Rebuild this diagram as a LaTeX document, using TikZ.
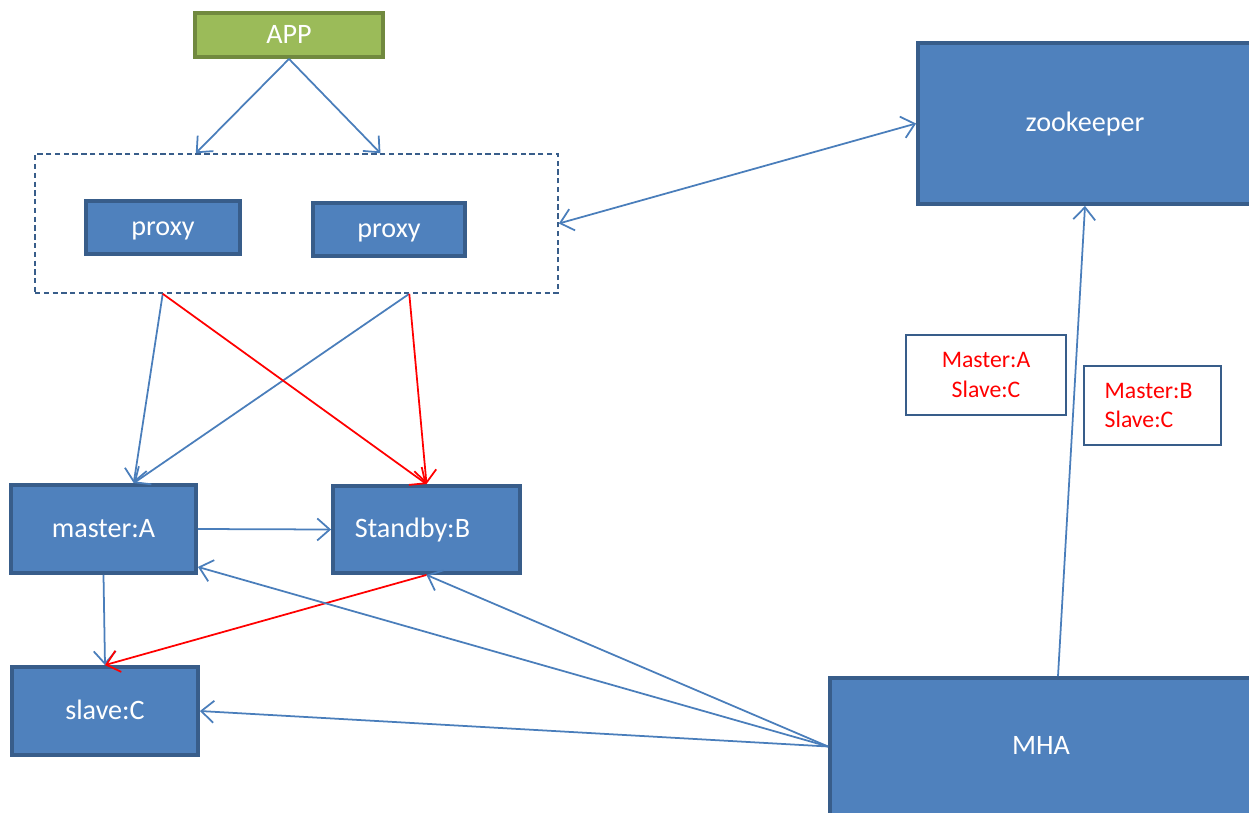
\documentclass[tikz,border=0pt]{standalone}
\usepackage{fontspec}
\setmainfont{Carlito}
\usepackage{tikz}
\usetikzlibrary{arrows.meta}
\usetikzlibrary{calc}
\usetikzlibrary{positioning}
\definecolor{box-fill}{HTML}{4F81BD}
\definecolor{box-line}{HTML}{385D8A}
\definecolor{app-fill}{HTML}{9BBB59}
\definecolor{app-line}{HTML}{71893F}
\definecolor{link-blue}{HTML}{4A7EBB}
\definecolor{link-red}{HTML}{FF0000}

\tikzset{
    server/.style={draw=box-line, fill=box-fill, line width=2.2pt, text=white,
        font=\fontsize{16}{19}\selectfont, inner sep=0pt, text height=1.1em, text depth=0.15em},
    note/.style={draw=box-line, fill=white, line width=1.3pt, text=link-red,
        font=\fontsize{13.5}{17}\selectfont, inner sep=0pt},
    link/.style={-{Straight Barb[length=2.5mm, width=4.4mm]}, line width=1pt, color=link-blue},
    failover/.style={-{Straight Barb[length=2.5mm, width=4.4mm]}, line width=1pt, color=link-red}
}

\begin{document}
\begin{tikzpicture}[x=0.2mm, y=-0.2mm]

    \useasboundingbox (0,0) rectangle (1249,812);

    % application
    \node[server, draw=app-line, fill=app-fill, minimum width=37.6mm, minimum height=8.8mm] (app) at (289,35) {APP};

    % proxy layer
    \node[draw=box-line, dashed, line width=0.9pt, dash pattern=on 3pt off 2pt,
        minimum width=104.6mm, minimum height=27.8mm] (proxies) at (296.5,223.5) {};
    \node[server, minimum width=30.8mm, minimum height=10.6mm] (proxyA) at (163,227.5) {proxy};
    \node[server, minimum width=30.4mm, minimum height=10.6mm] (proxyB) at (389,229.5) {proxy};

    % databases
    \node[server, minimum width=37mm, minimum height=17.6mm] (master) at (103.5,529) {master:A};
    \node[server, minimum width=37.4mm, minimum height=17.4mm] (standby) at (426.5,529.5) {Standby:B\hspace*{5.6mm}};
    \node[server, minimum width=37.2mm, minimum height=17.6mm] (slave) at (105,711) {slave:C};

    % management
    \node[server, minimum width=66.8mm, minimum height=32.2mm] (zk) at (1085,123.5) {zookeeper};
    \node[server, minimum width=84.4mm, minimum height=27.4mm] (mha) at (1041,746.5) {MHA};

    % states
    \node[note, minimum width=32mm, minimum height=16mm, align=center] (stateA) at (986,375) {Master:A\\Slave:C};
    \node[note, minimum width=27.4mm, minimum height=15.8mm, align=left] (stateB) at (1152.5,405.5) {Master:B\hspace*{1.6mm}\\Slave:C};

    % app -> proxies
    \draw[link] (app.south) -- ($(proxies.north west)!0.308!(proxies.north east)$);
    \draw[link] (app.south) -- ($(proxies.north west)!0.66!(proxies.north east)$);

    % proxies -> databases
    \coordinate (outA) at ($(proxies.south west)!0.245!(proxies.south east)$);
    \coordinate (outB) at ($(proxies.south west)!0.715!(proxies.south east)$);
    \coordinate (inA) at ($(master.north west)!0.66!(master.north east)$);
    \draw[link] (outA) -- (inA);
    \draw[link] (outB) -- (inA);
    \draw[failover] (outA) -- (standby.north);
    \draw[failover] (outB) -- (standby.north);

    % replication
    \draw[link] (master.east) -- (standby.west);
    \draw[link] (master.south) -- (slave.north);
    \draw[failover] (standby.south) -- (slave.north);

    % mha
    \draw[link] (mha.west) -- ($(master.south east)+(0,-8)$);
    \draw[link] (mha.west) -- (standby.south);
    \draw[link] (mha.west) -- (slave.east);
    \draw[link] ($(mha.north)+(17,0)$) -- (zk.south);

    % zookeeper <-> proxies
    \draw[link, {Straight Barb[length=2.5mm, width=4.4mm]}-{Straight Barb[length=2.5mm, width=4.4mm]}] (proxies.east) -- (zk.west);

\end{tikzpicture}
\end{document}
